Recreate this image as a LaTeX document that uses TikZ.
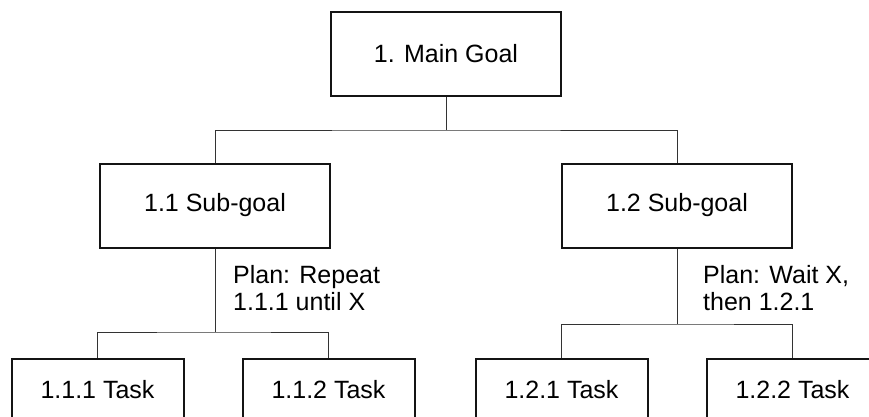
\documentclass[tikz,border=0pt]{standalone}
\usepackage{fontspec}
\setmainfont{Liberation Sans}
\begin{document}
\begin{tikzpicture}[x=1pt,y=-1pt,
  box/.style={draw=black!92, line width=2pt, inner sep=0pt, align=center,
              font=\fontsize{25}{28}\selectfont},
  goalbox/.style={box, minimum width=230pt, minimum height=84pt},
  taskbox/.style={box, minimum width=172pt, minimum height=62pt},
  conn/.style={draw=black!80, line width=1pt},
  plan/.style={anchor=base west, inner sep=0pt, align=left,
               font=\fontsize{25}{27}\selectfont}]
  \clip (0,0) rectangle (869,417);
  \fill[white] (0,0) rectangle (869,417);

  % goal hierarchy
  \node[goalbox] (main) at (446,54) {1. Main Goal};
  \node[goalbox] (s1) at (215,205.5) {1.1 Sub-goal};
  \node[goalbox] (s2) at (677,205.5) {1.2 Sub-goal};

  \node[taskbox] (t111) at (97.5,390) {1.1.1 Task};
  \node[taskbox] (t112) at (328.5,390) {1.1.2 Task};
  \node[taskbox] (t121) at (561.5,390) {1.2.1 Task};
  \node[taskbox] (t122) at (792.5,390) {1.2.2 Task};

  % plans (base anchor sits on the last line)
  \node[plan] (p1) at (233,310) {Plan: Repeat\\1.1.1 until X};
  \node[plan] (p2) at (703,310) {Plan: Wait X,\\then 1.2.1};

  % connectors
  \draw[conn] (main.south) -- (main.south |- 0,130) coordinate (b0);
  \draw[conn] (s1.north) |- (b0) -| (s2.north);

  \draw[conn] (s1.south) -- (s1.south |- 0,332) coordinate (b1);
  \draw[conn] (t111.north) |- (b1) -| (t112.north);

  \draw[conn] (s2.south) -- (s2.south |- 0,324) coordinate (b2);
  \draw[conn] (t121.north) |- (b2) -| (t122.north);
\end{tikzpicture}
\end{document}
